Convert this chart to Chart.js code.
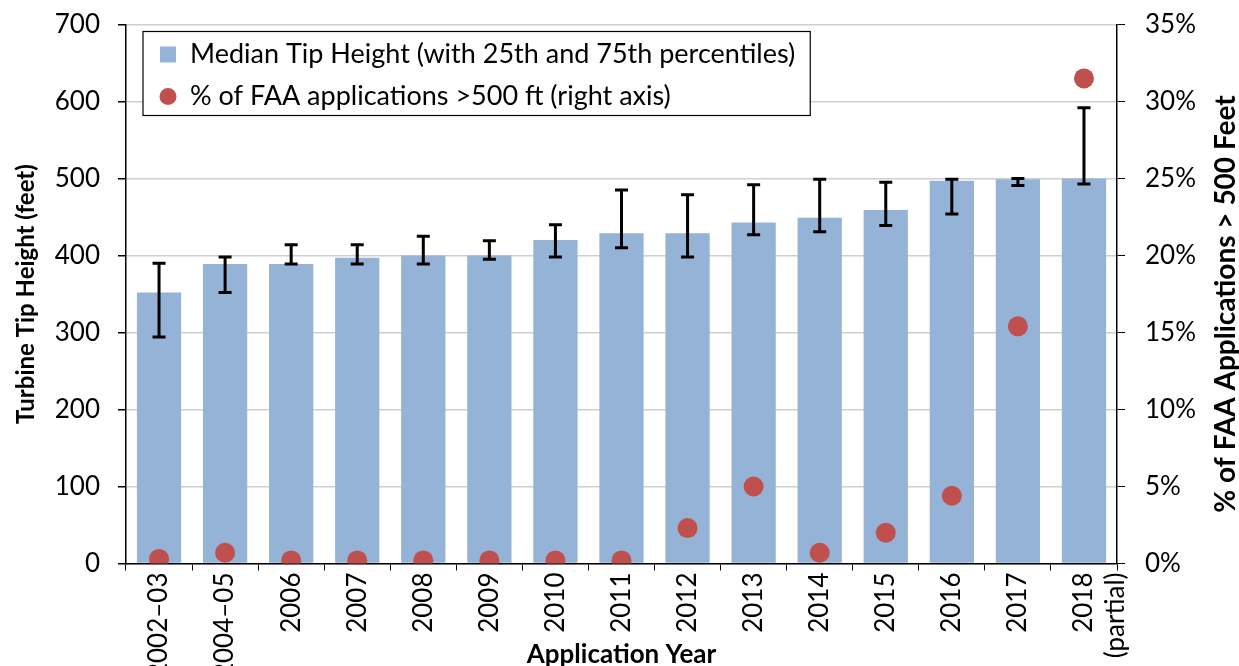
<!DOCTYPE html>
<html>
<head>
<meta charset="utf-8">
<script src="https://cdn.jsdelivr.net/npm/chart.js@4/dist/chart.umd.min.js"></script>
<style>
  body { margin: 0; background: #fff; overflow: hidden; }
  #wrap { width: 1239px; height: 666px; }
</style>
</head>
<body>
<div id="wrap"><canvas id="myChart" width="1239" height="666"></canvas></div>
<script>
// application years (x axis)
var categories = ['2002\u201303', '2004\u201305', '2006', '2007', '2008', '2009', '2010', '2011',
                  '2012', '2013', '2014', '2015', '2016', '2017', ['2018', '(partial)']];
// median turbine tip height, feet
var medianHeight = [352, 389, 389, 397, 400, 400, 420, 429, 429, 443, 449, 459, 497, 499, 500];
// 25th / 75th percentile (error bars)
var p25 = [294, 352, 389, 389, 389, 395, 398, 410, 398, 427, 431, 439, 454, 491, 493];
var p75 = [390, 398, 414, 414, 425, 419, 440, 485, 479, 492, 499, 495, 499, 500, 592];
// % of FAA applications > 500 ft (right axis)
var pctOver500 = [0.3, 0.7, 0.2, 0.2, 0.2, 0.2, 0.2, 0.2, 2.3, 5.0, 0.7, 2.0, 4.4, 15.4, 31.5];

var leftTicks = [0, 100, 200, 300, 400, 500, 600, 700];
var rightTicks = [0, 5, 10, 15, 20, 25, 30, 35];

var FONT = 'Lato, "Open Sans", sans-serif';
var barColor = '#95B3D7';
var dotColor = '#C0504D';

// error bars drawn right after the bars
var errorBars = {
  id: 'errorBars',
  afterDatasetDraw: function(chart, args) {
    if (args.index !== 0) return;
    var ctx = chart.ctx;
    var meta = chart.getDatasetMeta(0);
    var y = chart.scales.y;
    ctx.save();
    ctx.strokeStyle = '#000';
    ctx.lineWidth = 3;
    meta.data.forEach(function(bar, i) {
      var x = bar.x;
      var yl = y.getPixelForValue(p25[i]);
      var yh = y.getPixelForValue(p75[i]);
      ctx.beginPath();
      ctx.moveTo(x, yl); ctx.lineTo(x, yh);
      ctx.moveTo(x - 6.5, yl); ctx.lineTo(x + 6.5, yl);
      ctx.moveTo(x - 6.5, yh); ctx.lineTo(x + 6.5, yh);
      ctx.stroke();
    });
    ctx.restore();
  }
};

// boxed legend inside the plot, and the right axis title
var extras = {
  id: 'extras',
  afterDraw: function(chart) {
    var ctx = chart.ctx;
    var area = chart.chartArea;
    var labels = ['Median Tip Height (with 25th and 75th percentiles)',
                  '% of FAA applications >500 ft (right axis)'];
    ctx.save();
    ctx.font = '27px ' + FONT;
    var tw = Math.max(ctx.measureText(labels[0]).width, ctx.measureText(labels[1]).width);
    var x0 = area.left + 17, y0 = area.top + 7;
    var w = 47 + tw + 15, h = 84;
    ctx.fillStyle = '#fff';
    ctx.fillRect(x0, y0, w, h);
    ctx.strokeStyle = '#000';
    ctx.lineWidth = 1.2;
    ctx.strokeRect(x0, y0, w, h);
    ctx.fillStyle = barColor;
    ctx.fillRect(x0 + 17, y0 + 15, 16, 16);
    ctx.fillStyle = dotColor;
    ctx.beginPath();
    ctx.arc(x0 + 25, y0 + 65, 8.5, 0, Math.PI * 2);
    ctx.fill();
    ctx.fillStyle = '#000';
    ctx.textBaseline = 'middle';
    ctx.fillText(labels[0], x0 + 47, y0 + 23);
    ctx.fillText(labels[1], x0 + 47, y0 + 65);

    // right axis title, reading bottom to top
    ctx.font = 'bold 28px ' + FONT;
    ctx.textAlign = 'center';
    ctx.translate(1226, (area.top + area.bottom) / 2 + 10);
    ctx.rotate(-Math.PI / 2);
    ctx.fillText('% of FAA Applications > 500 Feet', 0, 0);
    ctx.restore();
  }
};

function noVPad(s) { s.paddingTop = 0; s.paddingBottom = 0; }

var ctx = document.getElementById('myChart').getContext('2d');
var chart = new Chart(ctx, {
  type: 'bar',
  data: {
    labels: categories,
    datasets: [{
      label: 'Median Tip Height (with 25th and 75th percentiles)',
      data: medianHeight,
      backgroundColor: barColor,
      borderWidth: 0,
      barPercentage: 0.67,
      categoryPercentage: 1.0,
      yAxisID: 'y',
      order: 2
    }, {
      type: 'line',
      label: '% of FAA applications >500 ft (right axis)',
      data: pctOver500,
      showLine: false,
      pointRadius: 10,
      pointHoverRadius: 10,
      pointBackgroundColor: dotColor,
      pointBorderWidth: 0,
      yAxisID: 'y1',
      order: 1
    }]
  },
  options: {
    responsive: false,
    animation: false,
    layout: { padding: { top: 24.5, left: 0, right: 0, bottom: 0 } },
    plugins: { legend: { display: false }, tooltip: { enabled: false } },
    scales: {
      x: {
        afterFit: function(s) { s.height = 102.5; },
        grid: { drawOnChartArea: false, drawTicks: true, tickLength: 7, tickColor: '#000' },
        border: { color: '#000', width: 1.5 },
        ticks: {
          color: '#000', font: { family: FONT, size: 26 },
          maxRotation: 90, minRotation: 90, padding: 2, autoSkip: false
        },
        title: {
          display: true, text: 'Application Year', color: '#000',
          font: { family: FONT, size: 26, weight: 'bold' },
          padding: { top: 0, bottom: -4.5 }
        }
      },
      y: {
        position: 'left',
        min: 0, max: 700,
        afterFit: function(s) { s.width = 126; noVPad(s); },
        afterBuildTicks: function(s) { s.ticks = leftTicks.map(function(v) { return { value: v }; }); },
        grid: { color: '#CFCFCF', lineWidth: 1.5, tickLength: 8, tickColor: '#000' },
        border: { color: '#000', width: 1.5 },
        ticks: { color: '#000', font: { family: FONT, size: 26 }, padding: 18 },
        title: {
          display: true, text: 'Turbine Tip Height (feet)', color: '#000',
          font: { family: FONT, size: 24, weight: 'bold' },
          padding: { top: 12, bottom: 0 }
        }
      },
      y1: {
        position: 'right',
        min: 0, max: 35,
        afterFit: function(s) { s.width = 122; noVPad(s); },
        afterBuildTicks: function(s) { s.ticks = rightTicks.map(function(v) { return { value: v }; }); },
        grid: { drawOnChartArea: false, tickLength: 8, tickColor: '#000' },
        border: { color: '#000', width: 1.5 },
        ticks: {
          color: '#000', font: { family: FONT, size: 26 }, padding: 20,
          callback: function(v) { return v + '%'; }
        }
      }
    }
  },
  plugins: [errorBars, extras]
});
</script>
</body>
</html>
